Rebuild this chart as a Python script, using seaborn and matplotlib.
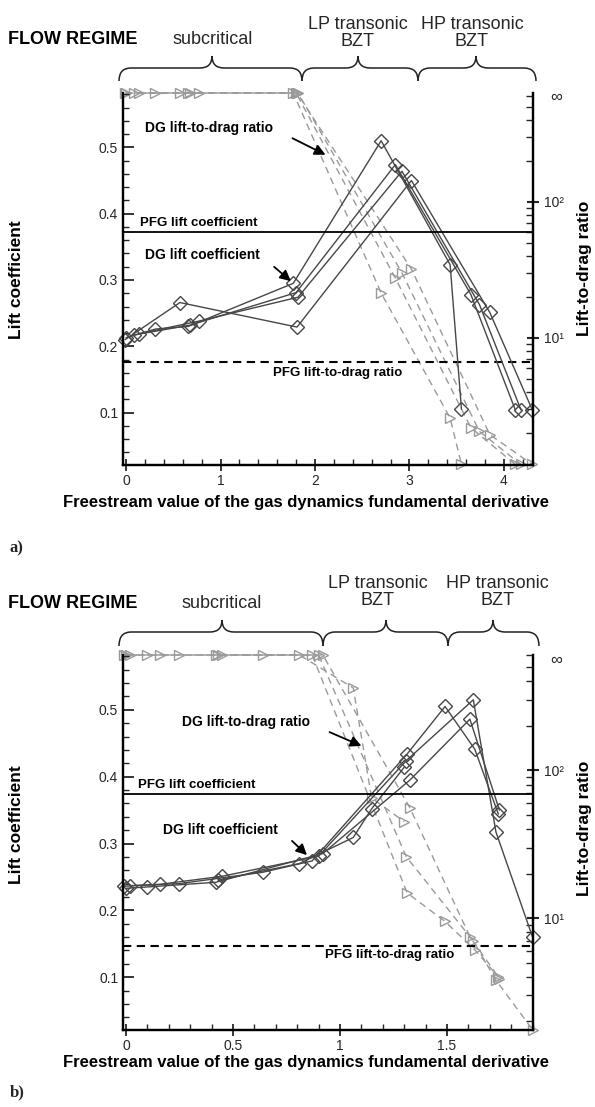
import numpy as np
import pandas as pd
import matplotlib
matplotlib.use("Agg")
import matplotlib.pyplot as plt
import seaborn as sns
from matplotlib.path import Path
from matplotlib.patches import PathPatch
from matplotlib.ticker import MultipleLocator, LogLocator, NullFormatter

INF = np.inf

# panel a) four cases: fundamental derivative, lift coefficient, lift-to-drag ratio
a_gamma = [
    [0.0, 0.31, 0.66, 1.77, 2.70, 3.43, 3.55],
    [0.08, 0.68, 1.80, 2.85, 3.65, 4.12],
    [0.14, 0.77, 1.82, 2.92, 3.74, 4.18],
    [-0.01, 0.57, 1.81, 3.02, 3.85, 4.30],
]
a_cl = [
    [0.213, 0.226, 0.230, 0.295, 0.510, 0.323, 0.105],
    [0.217, 0.232, 0.281, 0.474, 0.278, 0.104],
    [0.219, 0.238, 0.274, 0.464, 0.263, 0.104],
    [0.210, 0.266, 0.229, 0.450, 0.251, 0.104],
]
a_ld = [
    [INF, INF, INF, INF, 21.3, 2.57, 1.17],
    [INF, INF, INF, 27.5, 2.18, 1.17],
    [INF, INF, INF, 30.0, 2.05, 1.17],
    [INF, INF, INF, 32.0, 1.94, 1.17],
]

# panel b)
b_gamma = [
    [-0.01, 0.25, 0.64, 0.87, 1.314, 1.491, 1.63, 1.74],
    [0.02, 0.16, 0.45, 0.90, 1.31, 1.623, 1.729, 1.90],
    [0.0, 0.10, 0.42, 0.92, 1.327, 1.607, 1.745],
    [0.43, 0.81, 1.062, 1.148, 1.30],
]
b_cl = [
    [0.236, 0.240, 0.257, 0.274, 0.434, 0.505, 0.441, 0.344],
    [0.237, 0.239, 0.251, 0.281, 0.424, 0.515, 0.317, 0.160],
    [0.233, 0.235, 0.242, 0.285, 0.395, 0.486, 0.350],
    [0.245, 0.270, 0.309, 0.352, 0.414],
]
b_ld = [
    [INF, INF, INF, INF, 14.8, 9.5, 6.1, 4.0],
    [INF, INF, INF, INF, 26.0, 7.0, 3.8, 1.76],
    [INF, INF, INF, INF, 55.6, 7.5, 3.9],
    [INF, INF, 361.0, 65.0, 45.0],
]

pfg_cl = [0.373, 0.374]
pfg_ld = [6.6, 6.5]

regimes = ["subcritical", "LP transonic\nBZT", "HP transonic\nBZT"]

sns.set_style("white")
plt.rcParams['font.family'] = ['Liberation Sans', 'DejaVu Sans']

dia_c = "#474747"
tri_c = "#9a9a9a"

fig = plt.figure(figsize=(5.95, 11.07), dpi=100)
W, H = 595.0, 1107.0


def draw_panel(rect, gamma, cl, ld, ld_lim, xlim, xmajor, xlabels, xminor, pcl, pld):
    ax = fig.add_axes(rect)
    ax2 = ax.twinx()
    ax2.set_yscale('log')
    ax2.set_ylim(*ld_lim)
    for k in range(len(gamma)):
        df = pd.DataFrame({'G': gamma[k], 'cl': cl[k], 'ld': ld[k]})
        # infinite L/D sits on the top edge (the "∞" level)
        df['ld'] = df['ld'].replace(np.inf, ld_lim[1])
        sns.lineplot(data=df, x='G', y='ld', ax=ax2, sort=False, estimator=None,
                     color=tri_c, linewidth=1.0, linestyle=(0, (5, 3.5)),
                     marker='>', markersize=7.5, markerfacecolor='none',
                     markeredgecolor=tri_c, mew=1.0, clip_on=False)
        sns.lineplot(data=df, x='G', y='cl', ax=ax, sort=False, estimator=None,
                     color=dia_c, linewidth=1.0, marker='D', markersize=7,
                     markerfacecolor='none', markeredgecolor=dia_c, mew=1.0,
                     clip_on=False)
    ax.axhline(pcl, color='k', lw=1.3)
    ax2.axhline(pld, color='k', lw=1.5, linestyle=(0, (4, 2.6)))
    ax.set_zorder(ax2.get_zorder() + 1)
    ax.patch.set_visible(False)

    ax.set_xlim(*xlim)
    ax.set_ylim(0.021, 0.582)
    ax.set_xlabel('')
    ax.set_ylabel('')
    ax2.set_ylabel('')
    ax.set_xticks(xmajor)
    ax.set_xticklabels(xlabels)
    ax.xaxis.set_minor_locator(MultipleLocator(xminor))
    ax.set_yticks([0.1, 0.2, 0.3, 0.4, 0.5])
    ax.set_yticklabels(['0.1', '0.2', '0.3', '0.4', '0.5'])
    ax.yaxis.set_minor_locator(MultipleLocator(0.02))
    ax.tick_params(axis='x', which='major', direction='inout', length=9, width=1.3,
                   labelsize=10, pad=2, bottom=True)
    ax.tick_params(axis='x', which='minor', direction='in', length=4, width=1, bottom=True)
    ax.tick_params(axis='y', which='major', direction='in', length=8, width=1.3,
                   labelsize=10, left=True)
    ax.tick_params(axis='y', which='minor', direction='in', length=4, width=1, left=True)

    ax2.set_yticks([10, 100])
    ax2.set_yticklabels(['10¹', '10²'])
    ax2.yaxis.set_minor_locator(LogLocator(base=10, subs=np.arange(2, 10)))
    ax2.yaxis.set_minor_formatter(NullFormatter())
    ax2.tick_params(axis='y', which='major', direction='inout', length=9, width=1.5,
                    labelsize=10, right=True)
    ax2.tick_params(axis='y', which='minor', direction='in', length=5, width=1, right=True)

    for a in (ax, ax2):
        a.spines['top'].set_visible(False)
        for s in ('left', 'right', 'bottom'):
            a.spines[s].set_linewidth(1.6)
            a.spines[s].set_color('k')
    return ax, ax2


draw_panel([123 / W, 1 - 465 / H, 410 / W, 372 / H], a_gamma, a_cl, a_ld,
           (1.16, 630), (-0.032, 4.307), [0, 1, 2, 3, 4], ['0', '1', '2', '3', '4'], 0.2,
           pfg_cl[0], pfg_ld[0])
draw_panel([123 / W, 1 - 1030 / H, 410 / W, 375 / H], b_gamma, b_cl, b_ld,
           (1.75, 603), (-0.014, 1.902), [0, 0.5, 1, 1.5], ['0', '0.5', '1', '1.5'], 0.1,
           pfg_cl[1], pfg_ld[1])

# overlay in pixel coordinates for braces and annotations
ov = fig.add_axes([0, 0, 1, 1], zorder=20)
ov.set_xlim(0, W)
ov.set_ylim(H, 0)
ov.axis('off')
ov.patch.set_alpha(0)


def brace(x0, xm, x1, y_end, y_h, y_t, r=12):
    verts = [(x0, y_end), (x0, y_h), (x0 + r, y_h),
             (xm - r, y_h), (xm, y_h), (xm, y_t),
             (xm, y_h), (xm + r, y_h),
             (x1 - r, y_h), (x1, y_h), (x1, y_end)]
    codes = [Path.MOVETO, Path.CURVE3, Path.CURVE3,
             Path.LINETO, Path.CURVE3, Path.CURVE3,
             Path.CURVE3, Path.CURVE3,
             Path.LINETO, Path.CURVE3, Path.CURVE3]
    ov.add_patch(PathPatch(Path(verts, codes), fill=False, lw=1.1, ec='#222222'))


bold = dict(fontweight='bold', color='k')

# panel a) header
ov.text(8, 40, "FLOW REGIME", fontsize=13, ha='left', va='center', **bold)
ov.text(213, 40, regimes[0], fontsize=13, ha='center', va='center')
ov.text(358, 33, regimes[1], fontsize=13, ha='center', va='center', linespacing=1.05)
ov.text(472, 33, regimes[2], fontsize=13, ha='center', va='center', linespacing=1.05)
brace(119, 212, 302, 81, 68, 56)
brace(302, 358, 418, 81, 68, 56)
brace(418, 476, 536, 81, 68, 56)

# panel b) header
ov.text(8, 603, "FLOW REGIME", fontsize=13, ha='left', va='center', **bold)
ov.text(222, 603, regimes[0], fontsize=13, ha='center', va='center')
ov.text(378, 592, regimes[1], fontsize=13, ha='center', va='center', linespacing=1.05)
ov.text(497, 592, regimes[2], fontsize=13, ha='center', va='center', linespacing=1.05)
brace(119, 222, 323, 646, 632, 620)
brace(323, 386, 448, 646, 632, 620)
brace(448, 493, 539, 646, 632, 620)

# axis labels
for yx, yl, yr, tag, yt, yinf in [(502, 280, 268, 'a)', 548, 97),
                                  (1063, 825, 828, 'b)', 1092, 660)]:
    ov.text(306, yx, "Freestream value of the gas dynamics fundamental derivative",
            fontsize=12, ha='center', va='center', **bold)
    ov.text(17, yl, "Lift coefficient", fontsize=12.5, rotation=90,
            ha='center', va='center', **bold)
    ov.text(585, yr, "Lift-to-drag ratio", fontsize=12.5, rotation=90,
            ha='center', va='center', **bold)
    ov.text(10, yt, tag, fontsize=12, ha='left', va='center', fontweight='bold',
            family=['Liberation Serif', 'DejaVu Serif'])
    ov.text(556, yinf, "∞", fontsize=12, ha='center', va='center')

# panel a) annotations
ov.text(145, 128, "DG lift-to-drag ratio", fontsize=10, ha='left', va='center', **bold)
ov.annotate("", xy=(328, 156), xytext=(290, 137),
            arrowprops=dict(arrowstyle='-|>', color='k', lw=1.3, mutation_scale=16))
ov.text(145, 255, "DG lift coefficient", fontsize=10, ha='left', va='center', **bold)
ov.annotate("", xy=(293, 283), xytext=(272, 265),
            arrowprops=dict(arrowstyle='-|>', color='k', lw=1.3, mutation_scale=16))
ov.text(140, 223, "PFG lift coefficient", fontsize=9.5, ha='left', va='center', **bold)
ov.text(273, 373, "PFG lift-to-drag ratio", fontsize=9.5, ha='left', va='center', **bold)

# panel b) annotations
ov.text(182, 722, "DG lift-to-drag ratio", fontsize=10, ha='left', va='center', **bold)
ov.annotate("", xy=(364, 747), xytext=(327, 731),
            arrowprops=dict(arrowstyle='-|>', color='k', lw=1.3, mutation_scale=16))
ov.text(163, 830, "DG lift coefficient", fontsize=10, ha='left', va='center', **bold)
ov.annotate("", xy=(309, 857), xytext=(290, 839),
            arrowprops=dict(arrowstyle='-|>', color='k', lw=1.3, mutation_scale=16))
ov.text(138, 785, "PFG lift coefficient", fontsize=9.5, ha='left', va='center', **bold)
ov.text(325, 955, "PFG lift-to-drag ratio", fontsize=9.5, ha='left', va='center', **bold)

fig.savefig("out.png", dpi=100)
